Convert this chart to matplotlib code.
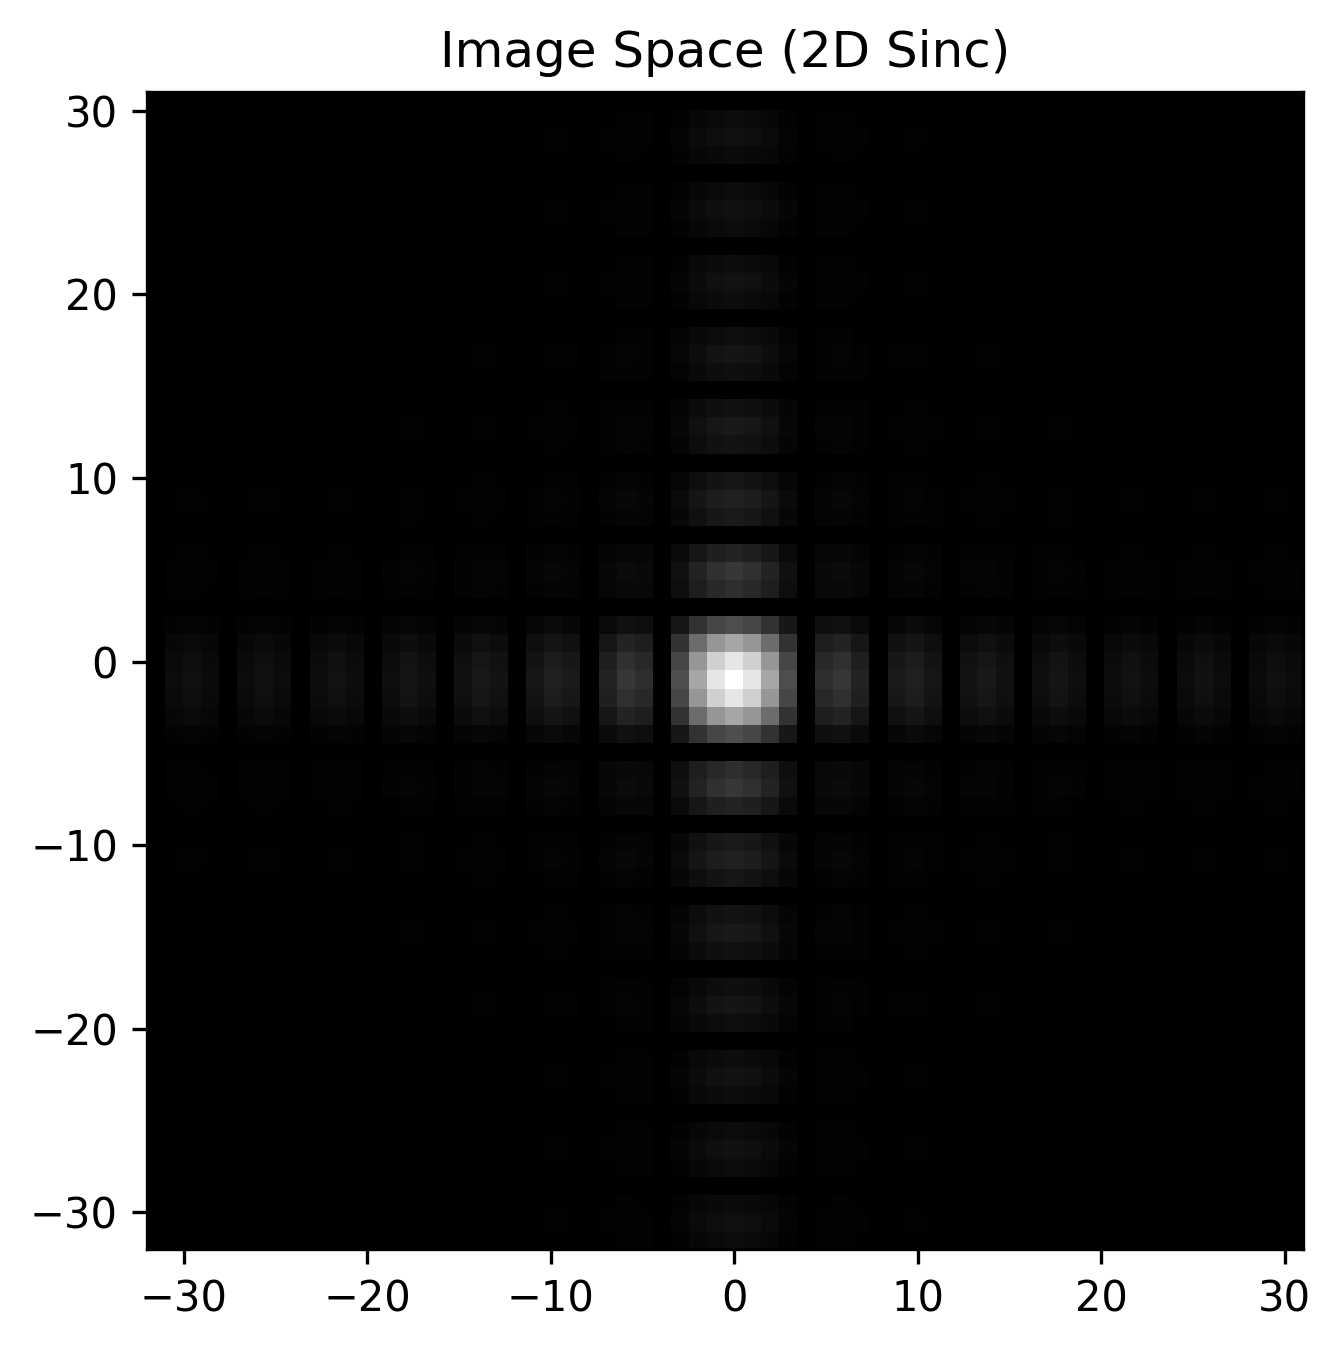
import numpy as np
import matplotlib
matplotlib.use("Agg")
import matplotlib.pyplot as plt

# Grey levels (0-255) read along the central row, columns -32 .. 31
row_levels = [0, 12, 16, 11, 0, 12, 17, 12, 0, 13, 18, 13, 0, 14, 21, 15,
              0, 17, 25, 19, 0, 22, 33, 26, 0, 35, 55, 46, 0, 78, 166, 230,
              255, 230, 166, 78, 0, 46, 55, 35, 0, 26, 33, 22, 0, 19, 25, 17,
              0, 15, 21, 14, 0, 13, 18, 13, 0, 12, 17, 12, 0, 11, 16, 12]
# Grey levels (0-255) read along the central column, rows top .. bottom
col_levels = [0, 12, 16, 11, 0, 12, 17, 12, 0, 13, 18, 13, 0, 14, 21, 15,
              0, 17, 25, 19, 0, 22, 33, 26, 0, 35, 55, 46, 0, 78, 166, 230,
              255, 230, 166, 78, 0, 46, 55, 35, 0, 26, 33, 22, 0, 19, 25, 17,
              0, 15, 21, 14, 0, 13, 18, 13, 0, 12, 17, 12, 0, 11, 16, 12]
x_limits = [-32, 31]
y_limits = [-32, 31]
x_ticks = [-30, -20, -10, 0, 10, 20, 30]
y_ticks = [-30, -20, -10, 0, 10, 20, 30]
title = "Image Space (2D Sinc)"

W, H = 1340, 1349
fig = plt.figure(figsize=(W / 300, H / 300), dpi=300)
ax = fig.add_axes([147.2 / W, 1 - 1249.0 / H, 1156 / W, 1156.6 / H])
image = np.outer(np.array(col_levels), np.array(row_levels)) / 255.0 ** 2
ax.imshow(image, cmap="gray", vmin=0, vmax=1,
          extent=[x_limits[0], x_limits[1], y_limits[0], y_limits[1]],
          interpolation="nearest", aspect="auto")
ax.set_xticks(x_ticks)
ax.set_yticks(y_ticks)
ax.set_title(title)
fig.savefig("out.png", dpi=300)
